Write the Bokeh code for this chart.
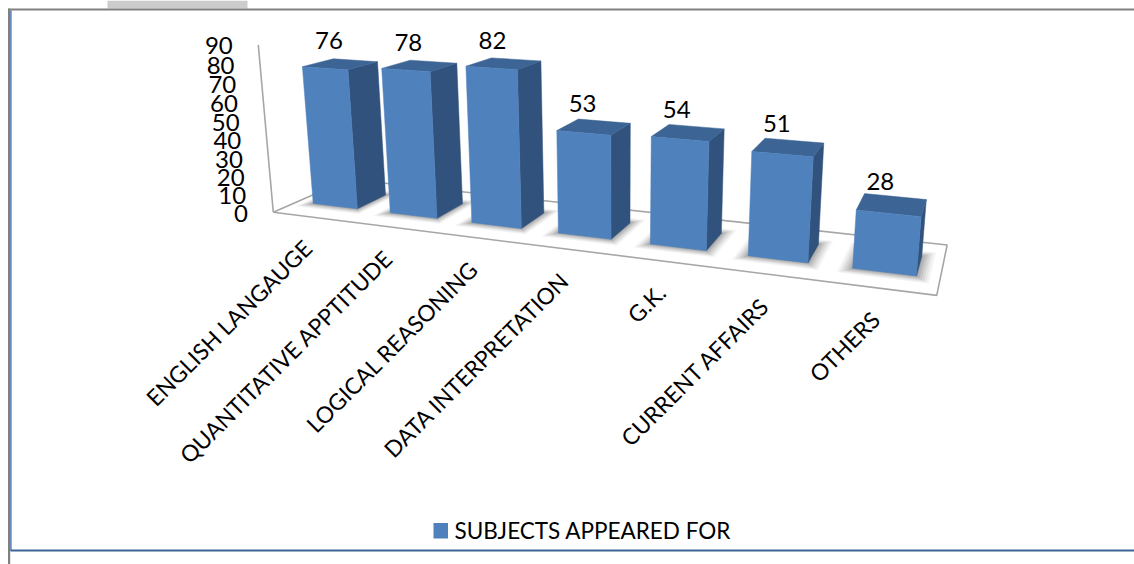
import numpy as np
from bokeh.plotting import figure
from bokeh.embed import file_html
from bokeh.resources import INLINE
from bokeh.core.properties import value

categories = ["ENGLISH LANGAUGE", "QUANTITATIVE APPTITUDE", "LOGICAL REASONING",
              "DATA INTERPRETATION", "G.K.", "CURRENT AFFAIRS", "OTHERS"]
values = [76, 78, 82, 53, 54, 51, 28]
y_ticks = [0, 10, 20, 30, 40, 50, 60, 70, 80, 90]
series_name = "SUBJECTS APPEARED FOR"

FONT = "Lato"
FRONT, SIDE, TOP = "#4F81BD", "#31527D", "#3C6494"

# --- camera calibration: where the 3D chart box and the bars' corners landed in the picture
seen = {
    0: dict(FLt=(302.7, 66.7), FRt=(347.7, 69.3), BRt=(376, 61.3), BLt=(334, 58.3),
            FLb=(313.3, 202.7), FRb=(356.7, 208.3), BRb=(384.7, 194)),
    1: dict(FLt=(381.7, 67.7), FRt=(430, 71), BRt=(456, 62.7), BLt=(408.3, 59.7),
            FLb=(390, 212.3), FRb=(436.7, 217.7), BRb=(461.7, 202.7)),
    2: dict(FLt=(465.7, 66), FRt=(516.7, 69), BRt=(539.3, 60), BLt=(491.7, 57.7),
            FLb=(471.7, 222), FRb=(521, 228), BRb=(542.7, 211.7)),
    3: dict(FLt=(556.7, 130.7), FRt=(610, 134.3), BRt=(629, 122.7), BLt=(579.3, 118.7),
            FLb=(557.7, 233.3), FRb=(610, 238.7), BRb=(629, 222)),
    4: dict(FLt=(651, 136.3), FRt=(707.7, 140.7), BRt=(722.7, 128.3), BLt=(671.7, 124.3),
            FLb=(650, 244.3), FRb=(705.7, 250), BRb=(720, 235)),
    5: dict(FLt=(751.7, 151), FRt=(811.7, 155.7), BRt=(822.3, 142.7), BLt=(766, 138),
            FLb=(748.3, 255.7), FRb=(807.3, 262.3), BRb=(817.3, 246.7)),
    6: dict(FLt=(856, 210), FRt=(920, 216), BRt=(925, 199), BLt=(865, 193.3),
            FLb=(852.3, 267.3), FRb=(916, 275), BRb=(922.3, 253)),
}
box_seen = [((0, 0, 0), (272.7, 211.7)), ((7, 0, 0), (936.7, 295)),
            ((7, 1, 0), (946.7, 244)), ((0, 1, 0), (348, 178.7)),
            ((0, 0, 90), (256.7, 44))]


def calibration_points(w, d0, d1):
    pts = list(box_seen)
    for i, c in seen.items():
        v = values[i]
        L, R = i + .5 - w / 2, i + .5 + w / 2
        world = dict(FLt=(L, d0, v), FRt=(R, d0, v), BRt=(R, d1, v), BLt=(L, d1, v),
                     FLb=(L, d0, 0), FRb=(R, d0, 0), BRb=(R, d1, 0))
        pts += [(world[k], c[k]) for k in c]
    return pts


def fit(pts):
    W = np.array([p[0] for p in pts], float)
    S = np.array([p[1] for p in pts], float)
    H = np.c_[W, np.ones(len(W))]
    wt = np.ones(len(W))
    for _ in range(8):
        rows = []
        for h, (x, y), k in zip(H, S, wt):
            rows.append(np.r_[h, 0 * h, -x * h] * k)
            rows.append(np.r_[0 * h, h, -y * h] * k)
        P = np.linalg.svd(np.array(rows))[2][-1].reshape(3, 4)
        wt = 1 / np.abs(H @ P[2])
    q = H @ P.T
    err = np.hypot(q[:, 0] / q[:, 2] - S[:, 0], q[:, 1] / q[:, 2] - S[:, 1]).mean()
    return P, err


best = None
for w in np.arange(.5, .72, .04):
    for d0 in np.arange(.1, .36, .05):
        for d1 in np.arange(.65, .96, .05):
            P_, e = fit(calibration_points(w, d0, d1))
            if best is None or e < best[0]:
                best = (e, P_, w, d0, d1)
err, P, BW, D0, D1 = best


def proj(u, d, v):
    q = P @ np.array([u, d, v, 1.0])
    return q[0] / q[2], q[1] / q[2]


def poly(corners):
    pts = [proj(*c) for c in corners]
    return [a for a, _ in pts], [b for _, b in pts]


p = figure(width=1134, height=564, x_range=(0, 1134), y_range=(564, 0),
           output_backend="svg", toolbar_location=None, min_border=0)
p.axis.visible = False
p.grid.visible = False
p.outline_line_color = None
p.background_fill_color = "white"

# frame of the page the chart was pasted from
p.quad(left=[107], right=[247], top=[0], bottom=[8], fill_color="#CCCCCC", line_color=None)
p.line([8.6, 8.6], [8, 564], line_color="#808080", line_width=2.2)
p.line([10.4, 10.4], [10, 550], line_color="#4F7DB5", line_width=1.5)
p.line([8, 1134], [9, 9], line_color="#808080", line_width=2)
p.line([10, 1134], [550, 550], line_color="#3B6695", line_width=2)

# floor and left wall edge
fx, fy = poly([(0, 0, 0), (7, 0, 0), (7, 1, 0), (0, 1, 0), (0, 0, 0)])
p.line(fx, fy, line_color="#A6A6A6", line_width=1.6)
wx, wy = poly([(0, 0, 0), (0, 0, 90)])
p.line(wx, wy, line_color="#A6A6A6", line_width=1.6)

# soft floor shadows
for grow, alpha in [(.11, .06), (.09, .07), (.07, .09), (.05, .11), (.03, .13), (.01, .16)]:
    xs, ys = [], []
    for i in range(len(values)):
        L, R = i + .5 - BW / 2 - grow * 1.1, i + .5 + BW / 2 + grow * 1.1
        a, b = poly([(L, D0 - grow, 0), (R, D0 - grow, 0), (R, D1 + grow, 0), (L, D1 + grow, 0)])
        xs.append(a)
        ys.append(b)
    p.patches(xs, ys, fill_color="#404040", fill_alpha=alpha, line_color=None)

# bars, left to right
for i, v in enumerate(values):
    L, R = i + .5 - BW / 2, i + .5 + BW / 2
    a, b = poly([(R, D0, 0), (R, D1, 0), (R, D1, v), (R, D0, v)])
    p.patch(a, b, fill_color=SIDE, line_color=SIDE, line_width=.5)
    a, b = poly([(L, D0, v), (R, D0, v), (R, D1, v), (L, D1, v)])
    p.patch(a, b, fill_color=TOP, line_color=TOP, line_width=.5)
    a, b = poly([(L, D0, 0), (R, D0, 0), (R, D0, v), (L, D0, v)])
    p.patch(a, b, fill_color=FRONT, line_color=FRONT, line_width=.5)

# value labels
lab = [proj(i + .5, (D0 + D1) / 2, v) for i, v in enumerate(values)]
p.text([a - 11.5 for a, _ in lab], [b - 23.5 for _, b in lab], text=[str(v) for v in values],
       text_font=value(FONT), text_font_size="24px", text_color="#000000",
       text_align="center", text_baseline="middle")

# y tick labels along the axis edge
tk = [proj(0, 0, t) for t in y_ticks]
p.text([a - 25.5 for a, _ in tk], [b + 1 for _, b in tk], text=[str(t) for t in y_ticks],
       text_font=value(FONT), text_font_size="24px", text_color="#000000",
       text_align="right", text_baseline="middle")

# rotated category labels
cl = [proj(i + .5, -.02, 0) for i in range(len(categories))]
p.text([a - 2.5 for a, _ in cl], [b + 26.5 for _, b in cl], text=categories, angle=np.pi / 4,
       text_font=value(FONT), text_font_size="22.7px", text_color="#000000",
       text_align="right", text_baseline="middle")

# legend
p.quad(left=[433], right=[447.5], top=[522.5], bottom=[538], fill_color=FRONT, line_color=None)
p.text([454], [529.5], text=[series_name], text_font=value(FONT), text_font_size="22.5px",
       text_color="#000000", text_align="left", text_baseline="middle")

open("out.html", "w").write(file_html(p, INLINE))
